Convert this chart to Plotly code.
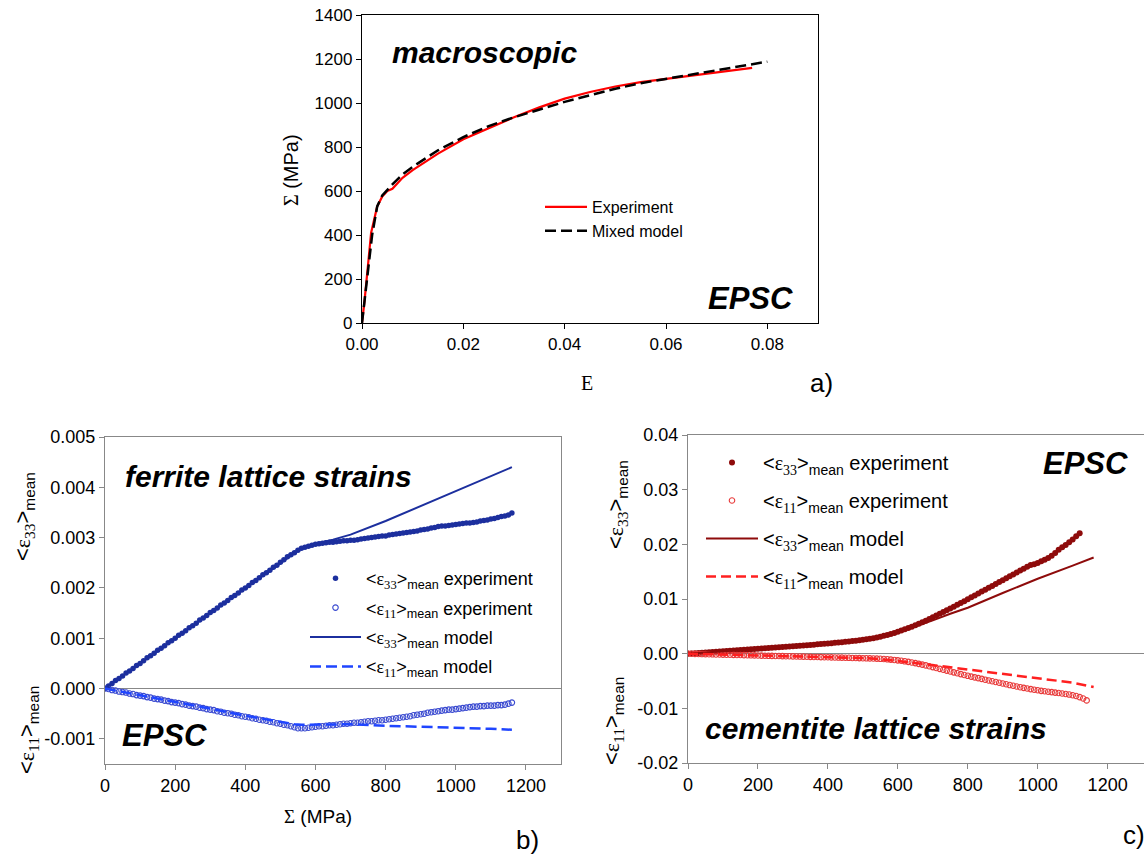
import plotly.graph_objects as go

# ---------------- panel a) macroscopic curve ----------------
E_EXP = [0.0, 0.0005, 0.0018, 0.003, 0.004, 0.005, 0.006, 0.008, 0.010, 0.015, 0.020,
         0.025, 0.030, 0.035, 0.040, 0.045, 0.050, 0.055, 0.060, 0.065, 0.070, 0.077]
S_EXP = [0, 100, 410, 530, 575, 600, 610, 660, 695, 770, 835,
         885, 935, 980, 1020, 1050, 1075, 1095, 1110, 1125, 1140, 1160]
E_MOD = [0.0, 0.002, 0.003, 0.004, 0.006, 0.008, 0.010, 0.015, 0.020, 0.025, 0.030,
         0.035, 0.040, 0.045, 0.050, 0.055, 0.060, 0.065, 0.070, 0.075, 0.080]
S_MOD = [0, 400, 530, 580, 630, 675, 710, 785, 845, 895, 935,
         970, 1005, 1035, 1065, 1090, 1110, 1130, 1150, 1170, 1188]

# ---------------- panel b) ferrite lattice strains ----------------
SIGMA_FERRITE = [0, 10, 20, 30, 40, 50, 60, 70, 80, 90,
                 100, 110, 120, 130, 140, 150, 160, 170, 180, 190,
                 200, 210, 220, 230, 240, 250, 260, 270, 280, 290,
                 300, 310, 320, 330, 340, 350, 360, 370, 380, 390,
                 400, 410, 420, 430, 440, 450, 460, 470, 480, 490,
                 500, 510, 520, 530, 540, 550, 560, 570, 580, 590,
                 600, 610, 620, 630, 640, 650, 660, 670, 680, 690,
                 700, 710, 720, 730, 740, 750, 760, 770, 780, 790,
                 800, 810, 820, 830, 840, 850, 860, 870, 880, 890,
                 900, 910, 920, 930, 940, 950, 960, 970, 980, 990,
                 1000, 1010, 1020, 1030, 1040, 1050, 1060, 1070, 1080, 1090,
                 1100, 1110, 1120, 1130, 1140, 1150, 1160]
FERRITE_E33_EXP = [0.0, 0.00005, 0.0001, 0.00016, 0.0002, 0.00025, 0.00031, 0.00035, 0.0004, 0.00046,
                   0.0005, 0.00055, 0.00061, 0.00065, 0.0007, 0.00076, 0.0008, 0.00085, 0.00091, 0.00095,
                   0.001, 0.00106, 0.0011, 0.00115, 0.00121, 0.00125, 0.0013, 0.00136, 0.0014, 0.00145,
                   0.00151, 0.00155, 0.0016, 0.00166, 0.0017, 0.00175, 0.00181, 0.00185, 0.0019, 0.00196,
                   0.002, 0.00205, 0.00211, 0.00215, 0.0022, 0.00226, 0.0023, 0.00235, 0.00241, 0.00245,
                   0.00251, 0.00256, 0.00262, 0.00266, 0.0027, 0.00275, 0.00279, 0.00281, 0.00283, 0.00285,
                   0.00287, 0.00288, 0.00289, 0.0029, 0.00291, 0.00291, 0.00292, 0.00293, 0.00294, 0.00294,
                   0.00295, 0.00295, 0.00296, 0.00297, 0.00298, 0.00299, 0.003, 0.00301, 0.00302, 0.00303,
                   0.00303, 0.00305, 0.00306, 0.00307, 0.00308, 0.00309, 0.0031, 0.00311, 0.00312, 0.00313,
                   0.00315, 0.00316, 0.00317, 0.00319, 0.0032, 0.00322, 0.00323, 0.00323, 0.00324, 0.00325,
                   0.00326, 0.00327, 0.00328, 0.00329, 0.00329, 0.0033, 0.00331, 0.00333, 0.00334, 0.00335,
                   0.00337, 0.00338, 0.0034, 0.00342, 0.00343, 0.00345, 0.00349]
FERRITE_E11_EXP = [0.0, -0.00001, -0.00003, -0.00004, -0.00006, -0.00007, -0.00008, -0.0001, -0.00011, -0.00013,
                   -0.00014, -0.00015, -0.00017, -0.00018, -0.0002, -0.00021, -0.00022, -0.00024, -0.00025, -0.00027,
                   -0.00028, -0.00029, -0.00031, -0.00032, -0.00034, -0.00035, -0.00036, -0.00038, -0.00039, -0.00041,
                   -0.00042, -0.00043, -0.00045, -0.00046, -0.00048, -0.00049, -0.0005, -0.00052, -0.00053, -0.00055,
                   -0.00056, -0.00057, -0.00059, -0.0006, -0.00062, -0.00063, -0.00064, -0.00066, -0.00067, -0.00069,
                   -0.0007, -0.00072, -0.00073, -0.00075, -0.00077, -0.00079, -0.00079, -0.00079, -0.00078, -0.00077,
                   -0.00076, -0.00075, -0.00075, -0.00074, -0.00073, -0.00073, -0.00072, -0.00071, -0.0007, -0.0007,
                   -0.00069, -0.00068, -0.00068, -0.00067, -0.00066, -0.00065, -0.00065, -0.00064, -0.00063, -0.00063,
                   -0.00062, -0.00061, -0.0006, -0.00059, -0.00058, -0.00057, -0.00056, -0.00055, -0.00053, -0.00052,
                   -0.00051, -0.0005, -0.00048, -0.00047, -0.00046, -0.00045, -0.00044, -0.00043, -0.00042, -0.00042,
                   -0.00041, -0.0004, -0.00039, -0.00038, -0.00037, -0.00036, -0.00036, -0.00035, -0.00035, -0.00034,
                   -0.00034, -0.00034, -0.00033, -0.00033, -0.00032, -0.0003, -0.00028]
SIGMA_FERRITE_MOD33 = [0, 100, 200, 300, 400, 500, 540, 560, 580, 600, 650, 700, 800, 900, 1000, 1100, 1160]
FERRITE_E33_MOD = [0.0, 0.0005, 0.001, 0.0015, 0.002, 0.0025, 0.0027, 0.00279, 0.00284, 0.00288,
                   0.00296, 0.00306, 0.00333, 0.00363, 0.00393, 0.00422, 0.0044]
SIGMA_FERRITE_MOD11 = [0, 100, 200, 300, 400, 500, 540, 560, 600, 700, 800, 900, 1000, 1100, 1160]
FERRITE_E11_MOD = [0.0, -0.00013, -0.00027, -0.0004, -0.00054, -0.00067, -0.00071, -0.00072, -0.00072,
                   -0.00071, -0.00074, -0.00076, -0.00077, -0.0008, -0.00082]

# ---------------- panel c) cementite lattice strains ----------------
SIGMA_CEMENTITE = [0, 10, 20, 30, 40, 50, 60, 70, 80, 90,
                   100, 110, 120, 130, 140, 150, 160, 170, 180, 190,
                   200, 210, 220, 230, 240, 250, 260, 270, 280, 290,
                   300, 310, 320, 330, 340, 350, 360, 370, 380, 390,
                   400, 410, 420, 430, 440, 450, 460, 470, 480, 490,
                   500, 510, 520, 530, 540, 550, 560, 570, 580, 590,
                   600, 610, 620, 630, 640, 650, 660, 670, 680, 690,
                   700, 710, 720, 730, 740, 750, 760, 770, 780, 790,
                   800, 810, 820, 830, 840, 850, 860, 870, 880, 890,
                   900, 910, 920, 930, 940, 950, 960, 970, 980, 990,
                   1000, 1010, 1020, 1030, 1040, 1050, 1060, 1070, 1080, 1090,
                   1100, 1110, 1120, 1130, 1140]
CEMENTITE_E33_EXP = [0.0, 0.00004, 0.00009, 0.00013, 0.00018, 0.00022, 0.00027, 0.00031, 0.00036, 0.0004,
                     0.00045, 0.00049, 0.00054, 0.00058, 0.00063, 0.00067, 0.00072, 0.00076, 0.00081, 0.00085,
                     0.0009, 0.00094, 0.00099, 0.00103, 0.00108, 0.00112, 0.00117, 0.00121, 0.00126, 0.0013,
                     0.00135, 0.0014, 0.00145, 0.0015, 0.00155, 0.0016, 0.00165, 0.0017, 0.00175, 0.0018,
                     0.00186, 0.00192, 0.00198, 0.00204, 0.0021, 0.00217, 0.00224, 0.00231, 0.00238, 0.00246,
                     0.00254, 0.00263, 0.00273, 0.00284, 0.00296, 0.0031, 0.00326, 0.00343, 0.00361, 0.0038,
                     0.004, 0.00422, 0.00445, 0.00469, 0.00494, 0.0052, 0.00547, 0.00575, 0.00604, 0.00634,
                     0.00665, 0.00696, 0.00728, 0.0076, 0.00793, 0.00826, 0.00859, 0.00893, 0.00927, 0.00961,
                     0.00996, 0.0103, 0.01065, 0.011, 0.01135, 0.0117, 0.01205, 0.0124, 0.01275, 0.0131,
                     0.01345, 0.0138, 0.01415, 0.0145, 0.01485, 0.0152, 0.01555, 0.0159, 0.0162, 0.01635,
                     0.0166, 0.0169, 0.0172, 0.0175, 0.0179, 0.0184, 0.019, 0.01945, 0.0199, 0.0204,
                     0.0209, 0.0215, 0.02205]
CEMENTITE_E11_EXP = [0.0, -0.00002, -0.00003, -0.00005, -0.00007, -0.00009, -0.0001, -0.00012, -0.00014, -0.00015,
                     -0.00017, -0.00019, -0.0002, -0.00022, -0.00024, -0.00025, -0.00027, -0.00029, -0.0003, -0.00032,
                     -0.00034, -0.00035, -0.00037, -0.00039, -0.0004, -0.00042, -0.00043, -0.00045, -0.00047, -0.00048,
                     -0.0005, -0.00052, -0.00053, -0.00055, -0.00056, -0.00058, -0.0006, -0.00061, -0.00063, -0.00065,
                     -0.00066, -0.00068, -0.00069, -0.00071, -0.00073, -0.00074, -0.00076, -0.00078, -0.00079, -0.00081,
                     -0.00083, -0.00085, -0.00087, -0.00089, -0.00091, -0.00094, -0.00098, -0.00103, -0.00109, -0.00115,
                     -0.00122, -0.0013, -0.0014, -0.0015, -0.00161, -0.00173, -0.00186, -0.002, -0.00215, -0.0023,
                     -0.00246, -0.00262, -0.00278, -0.00294, -0.0031, -0.00326, -0.00342, -0.00358, -0.00374, -0.0039,
                     -0.00405, -0.0042, -0.00434, -0.00448, -0.00462, -0.00476, -0.0049, -0.00504, -0.00518, -0.00532,
                     -0.00546, -0.0056, -0.00574, -0.00587, -0.006, -0.00613, -0.00625, -0.00637, -0.00649, -0.0066,
                     -0.0067, -0.0068, -0.00688, -0.00696, -0.00704, -0.00712, -0.0072, -0.00728, -0.00738, -0.00748,
                     -0.0076, -0.00775, -0.00795, -0.0082, -0.00855]
SIGMA_CEMENTITE_MOD33 = [0, 100, 200, 300, 400, 500, 550, 600, 650, 700, 750, 800, 900, 1000, 1100, 1160]
CEMENTITE_E33_MOD = [0.0, 0.00045, 0.0009, 0.00135, 0.00185, 0.0025, 0.003, 0.0038, 0.0049, 0.0061,
                     0.0073, 0.0084, 0.0111, 0.0137, 0.0161, 0.0176]
SIGMA_CEMENTITE_MOD11 = [0, 200, 400, 500, 550, 600, 650, 700, 750, 800, 900, 1000, 1100, 1160]
CEMENTITE_E11_MOD = [0.0, -0.0003, -0.0006, -0.0008, -0.001, -0.0013, -0.0017, -0.0021, -0.0025,
                     -0.0029, -0.0036, -0.0044, -0.0053, -0.0061]

# tick labels
A_X_TICKS = [0.0, 0.02, 0.04, 0.06, 0.08]
A_X_LABELS = ["0.00", "0.02", "0.04", "0.06", "0.08"]
A_Y_TICKS = [0, 200, 400, 600, 800, 1000, 1200, 1400]
SIGMA_TICKS = [0, 200, 400, 600, 800, 1000, 1200]
B_Y_TICKS = [-0.001, 0.0, 0.001, 0.002, 0.003, 0.004, 0.005]
B_Y_LABELS = ["-0.001", "0.000", "0.001", "0.002", "0.003", "0.004", "0.005"]
C_Y_TICKS = [-0.02, -0.01, 0.0, 0.01, 0.02, 0.03, 0.04]
C_Y_LABELS = ["-0.02", "-0.01", "0.00", "0.01", "0.02", "0.03", "0.04"]

SANS = "Liberation Sans, Arial, sans-serif"
SERIF = "Liberation Serif"
W, H = 1144, 855

FERRITE_DARK = "#1c2f9e"
FERRITE_OPEN = "#3a4ad0"
FERRITE_DASH = "#1f45ff"
CEM_DARK = "#8e0b0b"
CEM_OPEN = "#e83a3a"
CEM_DASH = "#ff2020"
GRAY = "#888888"


def eps(idx):
    return f'<span style="font-family:{SERIF}">ε<sub>{idx}</sub></span>'


def strain_label(idx, tail=""):
    return f"&lt;{eps(idx)}&gt;<sub>mean</sub>{tail}"


fig = go.Figure()

# panel a
fig.add_trace(go.Scatter(x=E_EXP, y=S_EXP, mode="lines", name="Experiment",
                         line=dict(color="#ff0000", width=2.2),
                         xaxis="x", yaxis="y", legend="legend", legendgroup="a1"))
fig.add_trace(go.Scatter(x=E_MOD, y=S_MOD, mode="lines", name="Mixed model",
                         line=dict(color="black", width=2.5, dash="11px,5px"),
                         xaxis="x", yaxis="y", legend="legend", legendgroup="a2"))

# panel b
fig.add_trace(go.Scatter(x=SIGMA_FERRITE, y=FERRITE_E33_EXP, mode="markers",
                         name=strain_label(33, " experiment"),
                         marker=dict(color=FERRITE_DARK, size=5.5),
                         xaxis="x2", yaxis="y2", legend="legend2", legendgroup="b1"))
fig.add_trace(go.Scatter(x=SIGMA_FERRITE, y=FERRITE_E11_EXP, mode="markers",
                         name=strain_label(11, " experiment"),
                         marker=dict(color=FERRITE_OPEN, size=5.5, symbol="circle-open",
                                     line=dict(width=1.1)),
                         xaxis="x2", yaxis="y2", legend="legend2", legendgroup="b2"))
fig.add_trace(go.Scatter(x=SIGMA_FERRITE_MOD33, y=FERRITE_E33_MOD, mode="lines",
                         name=strain_label(33, " model"),
                         line=dict(color=FERRITE_DARK, width=2),
                         xaxis="x2", yaxis="y2", legend="legend2", legendgroup="b3"))
fig.add_trace(go.Scatter(x=SIGMA_FERRITE_MOD11, y=FERRITE_E11_MOD, mode="lines",
                         name=strain_label(11, " model"),
                         line=dict(color=FERRITE_DASH, width=2.5, dash="11px,5px"),
                         xaxis="x2", yaxis="y2", legend="legend2", legendgroup="b4"))

# panel c
fig.add_trace(go.Scatter(x=SIGMA_CEMENTITE[:len(CEMENTITE_E33_EXP)], y=CEMENTITE_E33_EXP,
                         mode="markers", name=strain_label(33, " experiment"),
                         marker=dict(color=CEM_DARK, size=6),
                         xaxis="x3", yaxis="y3", legend="legend3", legendgroup="c1"))
fig.add_trace(go.Scatter(x=SIGMA_CEMENTITE, y=CEMENTITE_E11_EXP, mode="markers",
                         name=strain_label(11, " experiment"),
                         marker=dict(color=CEM_OPEN, size=5.5, symbol="circle-open",
                                     line=dict(width=1.1)),
                         xaxis="x3", yaxis="y3", legend="legend3", legendgroup="c2"))
fig.add_trace(go.Scatter(x=SIGMA_CEMENTITE_MOD33, y=CEMENTITE_E33_MOD, mode="lines",
                         name=strain_label(33, " model"),
                         line=dict(color=CEM_DARK, width=2),
                         xaxis="x3", yaxis="y3", legend="legend3", legendgroup="c3"))
fig.add_trace(go.Scatter(x=SIGMA_CEMENTITE_MOD11, y=CEMENTITE_E11_MOD, mode="lines",
                         name=strain_label(11, " model"),
                         line=dict(color=CEM_DASH, width=2.5, dash="10px,5px"),
                         xaxis="x3", yaxis="y3", legend="legend3", legendgroup="c4"))


def px_x(v):
    return v / W


def px_y(v):
    return 1 - v / H


def axis(domain, rng, color, tickvals, ticktext=None, size=18, mirror=True, zeroline=False, anchor=None):
    d = dict(domain=domain, range=rng, showgrid=False, showline=True, linecolor=color,
             linewidth=1.3, mirror=mirror, ticks="outside", ticklen=5, tickcolor=color,
             tickwidth=1.3, tickvals=tickvals, tickfont=dict(size=size, color="black", family=SANS),
             zeroline=zeroline, zerolinecolor=GRAY, zerolinewidth=1.3, anchor=anchor,
             automargin=False)
    if ticktext is not None:
        d["ticktext"] = ticktext
    return d


def legend_box(x, y, size, gap, itemwidth):
    return dict(x=px_x(x), y=px_y(y), xanchor="left", yanchor="top",
                font=dict(size=size, family=SANS), bgcolor="rgba(0,0,0,0)",
                tracegroupgap=gap, traceorder="grouped", itemwidth=itemwidth)


fig.update_layout(
    template="none",
    width=W, height=H, margin=dict(l=0, r=0, t=0, b=0, pad=0, autoexpand=False),
    paper_bgcolor="white", plot_bgcolor="white",
    font=dict(family=SANS, color="black"),
    xaxis=axis([px_x(362), px_x(818)], [0, 0.09], "black", A_X_TICKS, A_X_LABELS, 17, anchor="y"),
    yaxis=axis([px_y(323), px_y(15)], [0, 1400], "black", A_Y_TICKS, None, 17, anchor="x"),
    xaxis2=axis([px_x(105), px_x(561)], [0, 1300], GRAY, SIGMA_TICKS, None, 18, anchor="y2"),
    yaxis2=axis([px_y(764), px_y(437)], [-0.0015, 0.005], GRAY, B_Y_TICKS, B_Y_LABELS, 18,
                zeroline=True, anchor="x2"),
    xaxis3=axis([px_x(688), 1.0], [0, 1304], GRAY, SIGMA_TICKS, None, 18, anchor="y3"),
    yaxis3=axis([px_y(763), px_y(435)], [-0.02, 0.04], GRAY, C_Y_TICKS, C_Y_LABELS, 18,
                mirror=False, zeroline=True, anchor="x3"),
    legend=legend_box(540, 190, 16, 0, 42),
    legend2=legend_box(305, 560, 18, 3, 51),
    legend3=legend_box(701, 443, 20, 9, 52),
)

ann = []


def label(text, x, y, size, angle=0, family=SANS):
    ann.append(dict(text=text, x=px_x(x), y=px_y(y), xref="paper", yref="paper",
                    showarrow=False, xanchor="center", yanchor="middle",
                    textangle=angle, font=dict(size=size, family=family, color="black")))


# panel a texts
label("<b><i>macroscopic</i></b>", 484, 52, 30)
label("<b><i>EPSC</i></b>", 750, 298, 31)
label(f'<span style="font-family:{SERIF}">Σ</span> (MPa)', 291, 170, 20, angle=-90)
label("E", 587, 383, 20, family=SERIF)
label("a)", 821, 383, 26)

# panel b texts
label("<b><i>ferrite lattice strains</i></b>", 268, 477, 30)
label("<b><i>EPSC</i></b>", 164, 735, 31)
label(strain_label(33), 24, 517, 22, angle=-90)
label(strain_label(11), 28, 730, 22, angle=-90)
label(f'<span style="font-family:{SERIF}">Σ</span> (MPa)', 318, 816, 19)
label("b)", 527, 840, 26)

# panel c texts
label("<b><i>EPSC</i></b>", 1085, 463, 31)
label("<b><i>cementite lattice strains</i></b>", 876, 728, 30)
label(strain_label(33), 617, 505, 22, angle=-90)
label(strain_label(11), 613, 721, 22, angle=-90)
label("c)", 1134, 835, 26)

fig.update_layout(annotations=ann)

fig.write_html("out.html")
